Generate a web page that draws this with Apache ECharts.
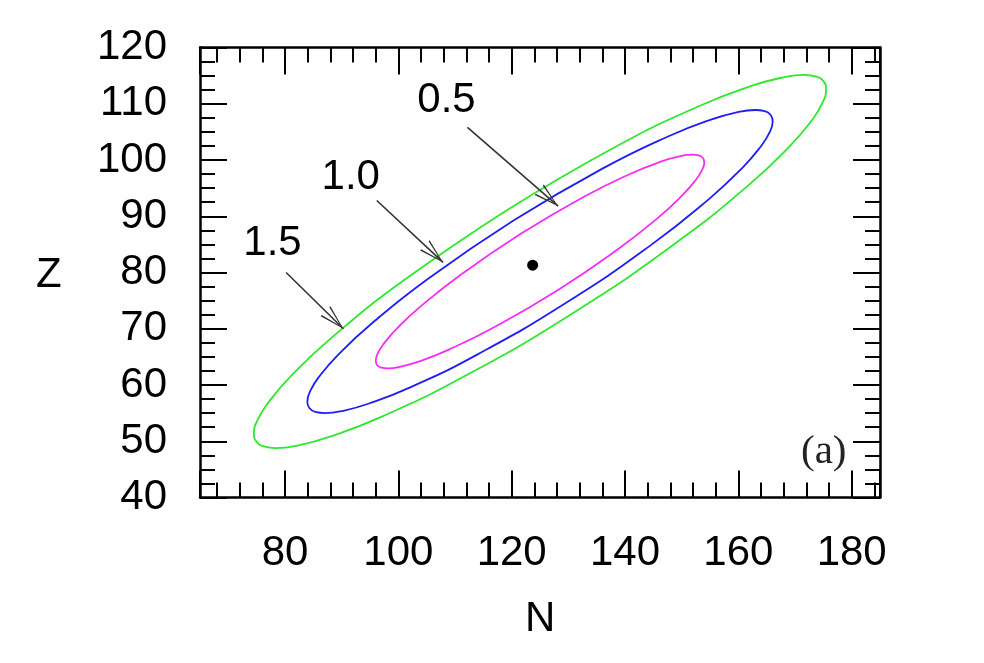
<!DOCTYPE html>
<html>
<head>
<meta charset="utf-8">
<title>N-Z contours</title>
<script src="https://cdn.jsdelivr.net/npm/echarts@6/dist/echarts.min.js"></script>
<style>
  html, body { margin: 0; padding: 0; background: #fff; }
  #chart { width: 984px; height: 663px; }
</style>
</head>
<body>
<div id="chart"></div>
<script>
// Tick labels
const xTicks = [80, 100, 120, 140, 160, 180];
const yTicks = [40, 50, 60, 70, 80, 90, 100, 110, 120];

// Contour lines, [N, Z], going round each closed curve
// (denser near the two pointed ends so the curve stays round there)
const contour15 = [
  [119.22, 91.13], [100.85, 78.52], [88.34, 68.50], [81.03, 61.56], [77.11, 56.95],
  [75.20, 53.85], [74.52, 51.32], [74.96, 49.93], [76.26, 49.07], [78.39, 48.79],
  [81.99, 49.19], [87.83, 50.77], [97.19, 54.43], [111.57, 61.50], [130.78, 72.77],
  [149.15, 85.38], [161.66, 95.40], [168.97, 102.34], [172.89, 106.95], [174.80, 110.06],
  [175.48, 112.58], [175.04, 113.98], [173.75, 114.83], [171.61, 115.12], [168.01, 114.71],
  [162.18, 113.13], [152.81, 109.47], [138.43, 102.40], [119.22, 91.13]
];
const contour10 = [
  [120.39, 89.28], [105.44, 79.03], [95.25, 70.89], [89.28, 65.28], [86.08, 61.55],
  [84.51, 59.04], [83.94, 57.02], [84.29, 55.90], [85.33, 55.22], [87.05, 55.01],
  [89.97, 55.35], [94.70, 56.67], [102.30, 59.67], [113.99, 65.45], [129.61, 74.63],
  [144.56, 84.87], [154.76, 93.01], [160.72, 98.62], [163.92, 102.36], [165.49, 104.86],
  [166.06, 106.88], [165.71, 108.00], [164.67, 108.68], [162.95, 108.89], [160.03, 108.55],
  [155.30, 107.23], [147.70, 104.23], [136.01, 98.46], [120.39, 89.28]
];
const contour05 = [
  [121.82, 87.01], [111.26, 79.78], [104.04, 74.06], [99.82, 70.11], [97.54, 67.49],
  [96.43, 65.74], [96.02, 64.33], [96.25, 63.56], [96.98, 63.09], [98.18, 62.95],
  [100.23, 63.22], [103.56, 64.16], [108.92, 66.30], [117.16, 70.40], [128.18, 76.89],
  [138.74, 84.12], [145.96, 89.84], [150.18, 93.79], [152.46, 96.41], [153.57, 98.16],
  [153.99, 99.57], [153.75, 100.35], [153.02, 100.81], [151.82, 100.95], [149.77, 100.68],
  [146.44, 99.74], [141.08, 97.60], [132.84, 93.50], [121.82, 87.01]
];

// Best point
const bestPoint = [[123.7, 81.3]];

// Contour annotations: text, where the text sits, arrow start and arrow tip
const labelTexts = ['0.5', '1.0', '1.5'];
const labelAt = [[108.5, 110.6], [91.6, 96.9], [77.8, 85.1]];
const arrowFrom = [[112.2, 105.8], [96.2, 92.8], [80.2, 80.0]];
const arrowTo = [[128.2, 91.8], [107.9, 81.8], [90.3, 70.0]];

const FONT = 'Liberation Sans, Arial, sans-serif';
const INK = '#000';

function axisBase(extra) {
  return Object.assign({
    type: 'value',
    splitLine: { show: false },
    axisLine: { show: true, onZero: false, lineStyle: { color: INK, width: 2.5 } },
    axisTick: { show: true, inside: true, length: 27, lineStyle: { color: INK, width: 2 } },
    minorSplitLine: { show: false }
  }, extra);
}

function minor(split) {
  return { show: true, splitNumber: split, length: 15, lineStyle: { color: INK, width: 2 } };
}

function contourSeries(data, color) {
  return {
    type: 'line',
    data: data,
    xAxisIndex: 0,
    yAxisIndex: 0,
    smooth: 0.5,
    symbol: 'none',
    lineStyle: { color: color, width: 1.8 },
    silent: true,
    z: 3
  };
}

// open "V" arrow head; its tip sits in the middle of a 50x50 box (the symbol centre),
// the two specks in the corners only fix the box size
const arrowHead = 'path://M25,25 L18,50 L19.6,50 L25,28.5 L30.4,50 L32,50 Z ' +
  'M0,0 L0.02,0 L0,0.02 Z M50,50 L49.98,50 L50,49.98 Z';

const chart = echarts.init(document.getElementById('chart'), null, { renderer: 'canvas' });

chart.setOption({
  animation: false,
  backgroundColor: '#fff',
  grid: { left: 200, top: 47.5, width: 680, height: 450, containLabel: false },
  xAxis: [
    axisBase({
      position: 'bottom', min: 65, max: 185,
      minorTick: minor(5),
      axisLabel: {
        margin: 35, fontSize: 42, fontFamily: FONT, color: INK,
        formatter: v => (xTicks.indexOf(v) >= 0 ? String(v) : '')
      }
    }),
    axisBase({
      position: 'top', min: 65, max: 185,
      minorTick: minor(5),
      axisLabel: { show: false }
    })
  ],
  yAxis: [
    axisBase({
      position: 'left', min: 40, max: 120, interval: 10,
      minorTick: minor(4),
      axisLabel: {
        margin: 33, fontSize: 42, fontFamily: FONT, color: INK,
        formatter: v => (yTicks.indexOf(v) >= 0 ? String(v) : '')
      }
    }),
    axisBase({
      position: 'right', min: 40, max: 120, interval: 10,
      minorTick: minor(4),
      axisLabel: { show: false }
    })
  ],
  graphic: [
    { type: 'text', left: 36, top: 254, style: { text: 'Z', font: '42px ' + FONT, fill: INK } },
    { type: 'text', left: 525, top: 598, style: { text: 'N', font: '42px ' + FONT, fill: INK } },
    { type: 'text', left: 801, top: 432, style: { text: '(a)', font: '41px Liberation Serif, serif', fill: '#222' } }
  ],
  series: [
    contourSeries(contour15, '#2ee82e'),
    contourSeries(contour10, '#1f1ff5'),
    contourSeries(contour05, '#f52ef5'),
    {
      type: 'scatter',
      data: bestPoint,
      symbolSize: 11,
      itemStyle: { color: INK, opacity: 1 },
      silent: true,
      z: 4
    },
    {
      type: 'scatter',
      data: labelAt.map((p, i) => ({ value: p, name: labelTexts[i] })),
      symbolSize: 1,
      itemStyle: { color: 'transparent', opacity: 1 },
      label: {
        show: true, position: 'inside', formatter: '{b}',
        fontSize: 42, fontFamily: FONT, color: INK
      },
      silent: true,
      markLine: {
        silent: true,
        symbol: ['none', arrowHead],
        symbolSize: 50,
        label: { show: false },
        itemStyle: { color: '#333' },
        lineStyle: { color: '#333', width: 1.6, type: 'solid', opacity: 1 },
        data: arrowFrom.map((p, i) => [{ coord: p }, { coord: arrowTo[i] }])
      },
      z: 5
    }
  ]
});
</script>
</body>
</html>
